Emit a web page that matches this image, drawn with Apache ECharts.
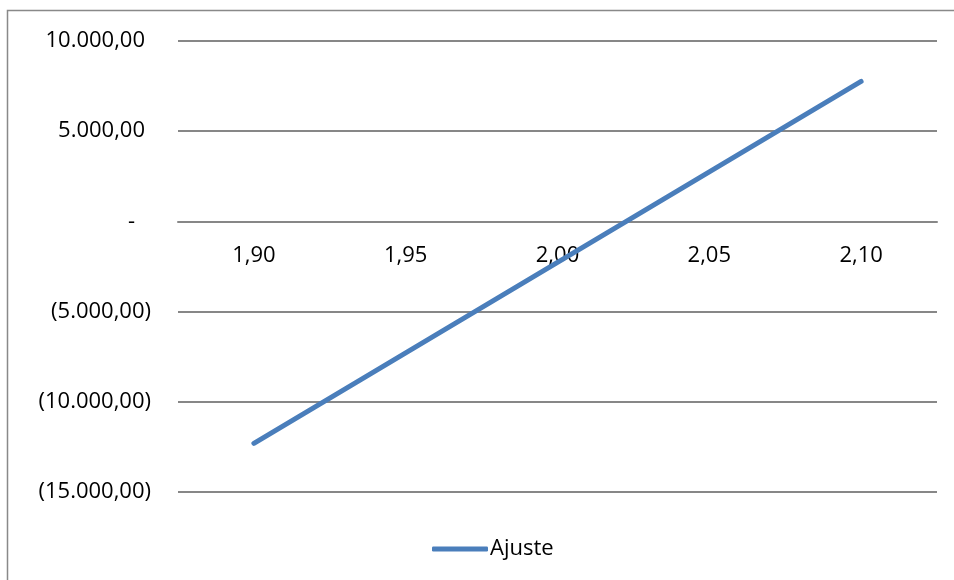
<!DOCTYPE html>
<html>
<head>
<meta charset="utf-8">
<script src="https://cdn.jsdelivr.net/npm/echarts@6/dist/echarts.min.js"></script>
<style>
  html, body { margin: 0; padding: 0; background: #fff; }
  #chart { width: 954px; height: 580px; }
</style>
</head>
<body>
<div id="chart"></div>
<script>
// x categories and the "Ajuste" values
const categories = ['1,90', '1,95', '2,00', '2,05', '2,10']
const ajuste = [-12300, -7285, -2270, 2745, 7760]
const seriesName = 'Ajuste'

// 10000 -> "10.000,00", negatives in brackets, zero as "-"
function fmt (v) {
  if (v === 0) return '{z|-}'
  const abs = Math.abs(v)
  const s = abs.toFixed(2).replace('.', ',').replace(/\B(?=(\d{3})+(?!\d))/g, '.')
  return v < 0 ? '{n|(' + s + ')}' : '{p|' + s + '}'
}

const chart = echarts.init(document.getElementById('chart'))
const font = '"Open Sans", "Liberation Sans", sans-serif'
const gridTop = 41, gridBottom = 88
const yMin = -15000, yMax = 10000
// move the category axis (with its labels) up to the zero line, like Excel does
const plotH = 580 - gridTop - gridBottom
const zeroOffset = -plotH * (0 - yMin) / (yMax - yMin)

const option = {
  animation: false,
  textStyle: { fontFamily: font },
  graphic: [
    {
      type: 'rect',
      shape: { x: 7.5, y: 10.5, width: 1000, height: 640 },
      style: { fill: 'none', stroke: '#898989', lineWidth: 1.5 },
      silent: true
    }
  ],
  grid: { left: 178, right: 17, top: gridTop, bottom: gridBottom },
  legend: {
    data: [seriesName],
    icon: 'roundRect',
    left: 427,
    top: 533,
    itemWidth: 56,
    itemHeight: 5,
    itemGap: 0,
    textStyle: { fontFamily: font, fontSize: 22, color: '#000', padding: [0, 0, 0, -3] }
  },
  xAxis: {
    type: 'category',
    data: categories,
    boundaryGap: true,
    offset: zeroOffset,
    axisLine: { onZero: false, lineStyle: { color: '#878787', width: 2 } },
    axisTick: { show: false },
    axisLabel: { margin: 23, fontSize: 22, color: '#000', fontFamily: font }
  },
  yAxis: {
    type: 'value',
    min: yMin,
    max: yMax,
    interval: 5000,
    axisLine: { show: false },
    axisTick: { show: false },
    splitLine: { lineStyle: { color: '#878787', width: 2 } },
    axisLabel: {
      margin: 27,
      formatter: fmt,
      rich: {
        p: { fontSize: 22, color: '#000', fontFamily: font, padding: [0, 6, 0, 0] },
        n: { fontSize: 22, color: '#000', fontFamily: font },
        z: { fontSize: 22, color: '#000', fontFamily: font, padding: [0, 16, 0, 0] }
      }
    }
  },
  series: [
    {
      name: seriesName,
      type: 'line',
      data: ajuste,
      symbol: 'none',
      lineStyle: { color: '#4a7ebb', width: 5, cap: 'round' },
      itemStyle: { color: '#4a7ebb' }
    }
  ]
}
chart.setOption(option)
</script>
</body>
</html>
